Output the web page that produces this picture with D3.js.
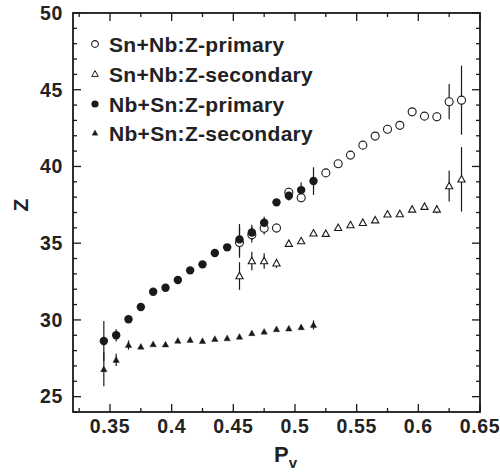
<!DOCTYPE html>
<html><head><meta charset="utf-8">
<script src="https://cdn.jsdelivr.net/npm/d3@7"></script>
<style>body{margin:0;background:#fff}svg{display:block}text{font-family:"Liberation Sans",Arial,sans-serif;font-weight:bold;fill:#222}</style>
</head><body><svg id="c" width="500" height="473"></svg>
<script>
// Data
const snNbPrimX = [0.455,0.465,0.475,0.485,0.495,0.505,0.525,0.535,0.545,0.555,0.565,0.575,0.585,0.595,0.605,0.615,0.625,0.635];
const snNbPrimY = [35.05,35.55,35.97,35.99,38.32,37.96,39.58,40.18,40.74,41.39,41.98,42.42,42.68,43.56,43.28,43.24,44.22,44.32];
const snNbPrimE = [1.0,0.5,0.4,0.3,0.3,0.3,0,0,0,0,0,0,0,0,0.15,0.3,1.15,2.25];

const snNbSecX = [0.455,0.465,0.475,0.485,0.495,0.505,0.515,0.525,0.535,0.545,0.555,0.565,0.575,0.585,0.595,0.605,0.615,0.625,0.635];
const snNbSecY = [32.86,33.84,33.84,33.69,34.97,35.14,35.64,35.62,36.0,36.18,36.33,36.5,36.88,36.9,37.2,37.38,37.2,38.72,39.16];
const snNbSecE = [0.9,0.6,0.5,0.3,0,0,0,0,0,0,0,0,0,0,0,0,0.25,1.0,2.1];

const nbSnPrimX = [0.345,0.355,0.365,0.375,0.385,0.395,0.405,0.415,0.425,0.435,0.445,0.455,0.465,0.475,0.485,0.495,0.505,0.515];
const nbSnPrimY = [28.63,29.0,30.04,30.84,31.84,32.1,32.6,33.23,33.62,34.36,34.73,35.25,35.7,36.33,37.66,38.09,38.46,39.05];
const nbSnPrimE = [1.3,0.4,0,0,0,0,0,0,0,0,0,1.0,0.5,0.4,0,0.3,0.5,0.9];

const nbSnSecX = [0.345,0.355,0.365,0.375,0.385,0.395,0.405,0.415,0.425,0.435,0.445,0.455,0.465,0.475,0.485,0.495,0.505,0.515];
const nbSnSecY = [26.78,27.39,28.36,28.25,28.41,28.39,28.63,28.69,28.62,28.75,28.8,28.89,29.13,29.23,29.39,29.43,29.52,29.67];
const nbSnSecE = [1.1,0.4,0.3,0,0,0,0,0,0,0,0,0,0,0,0,0,0.15,0.3];

const seriesNames = ["Sn+Nb:Z-primary","Sn+Nb:Z-secondary","Nb+Sn:Z-primary","Nb+Sn:Z-secondary"];
const xTicks = [0.35,0.4,0.45,0.5,0.55,0.6,0.65];
const yTicks = [25,30,35,40,45,50];

const svg = d3.select("#c");
const L=73, R=480, T=13, B=412;
const x = d3.scaleLinear().domain([0.32,0.65]).range([L,R]);
const y = d3.scaleLinear().domain([24,50]).range([B,T]);

const zip = (xs,ys,es)=>xs.map((v,i)=>({x:v,y:ys[i],e:es[i]}));
const series = [
  {name:seriesNames[0], data:zip(snNbPrimX,snNbPrimY,snNbPrimE), shape:"circle", fill:false},
  {name:seriesNames[1], data:zip(snNbSecX,snNbSecY,snNbSecE), shape:"tri", fill:false},
  {name:seriesNames[2], data:zip(nbSnPrimX,nbSnPrimY,nbSnPrimE), shape:"circle", fill:true},
  {name:seriesNames[3], data:zip(nbSnSecX,nbSnSecY,nbSnSecE), shape:"tri", fill:true}
];

const ink="#1a1a1a";
// error bars
series.forEach(s=>{
  svg.append("g").selectAll("line").data(s.data.filter(d=>d.e>0)).join("line")
    .attr("x1",d=>x(d.x)).attr("x2",d=>x(d.x))
    .attr("y1",d=>y(d.y-d.e)).attr("y2",d=>y(d.y+d.e))
    .attr("stroke",ink).attr("stroke-width",1.2);
});

function marker(g, s){
  if(s.shape==="circle"){
    return g.append("circle").attr("r", s.fill?4.2:4)
      .attr("fill", s.fill?ink:"#fff").attr("stroke",ink).attr("stroke-width",s.fill?0:1.1);
  } else {
    const sz = s.fill?3.2:3.6;
    const p = `M0,${-sz*1.05}L${sz*1.0},${sz*0.75}L${-sz*1.0},${sz*0.75}Z`;
    return g.append("path").attr("d",p)
      .attr("fill", s.fill?ink:"#fff").attr("stroke",ink).attr("stroke-width",s.fill?0.4:1.1);
  }
}
const order=[1,3,0,2];
order.forEach(i=>{
  const s=series[i];
  s.data.forEach(d=>{
    const g=svg.append("g").attr("transform",`translate(${x(d.x)},${y(d.y)})`);
    marker(g,s);
  });
});

// axes frame
svg.append("rect").attr("x",L).attr("y",T).attr("width",R-L).attr("height",B-T)
  .attr("fill","none").attr("stroke",ink).attr("stroke-width",1.8);

const xMinor = d3.range(0.325,0.6501,0.025);
const yMinor = d3.range(24,50.01,1);
const tk = svg.append("g").attr("stroke",ink).attr("stroke-width",1.3);
xMinor.forEach(v=>{
  const major = xTicks.some(t=>Math.abs(t-v)<1e-6);
  const len = major?8:4;
  tk.append("line").attr("x1",x(v)).attr("x2",x(v)).attr("y1",B).attr("y2",B-len);
  tk.append("line").attr("x1",x(v)).attr("x2",x(v)).attr("y1",T).attr("y2",T+len);
});
yMinor.forEach(v=>{
  const major = yTicks.includes(v);
  const len = major?8:4;
  tk.append("line").attr("y1",y(v)).attr("y2",y(v)).attr("x1",L).attr("x2",L+len);
  tk.append("line").attr("y1",y(v)).attr("y2",y(v)).attr("x1",R).attr("x2",R-len);
});

// tick labels
svg.append("g").selectAll("text").data(xTicks).join("text")
  .attr("x",d=>x(d)).attr("y",433).attr("text-anchor","middle")
  .attr("font-size",19.5).attr("letter-spacing",0.6).text(d=>d3.format("")(d));
svg.append("g").selectAll("text").data(yTicks).join("text")
  .attr("x",63).attr("y",d=>y(d)+6.8).attr("text-anchor","end")
  .attr("font-size",19.5).attr("letter-spacing",0.6).text(d=>d);

// axis titles
const xt = svg.append("text").attr("x",274).attr("y",462).attr("text-anchor","start").attr("font-size",22);
xt.append("tspan").text("P");
xt.append("tspan").attr("font-size",15).attr("dy",6).text("v");
svg.append("text").attr("transform","translate(28,205) rotate(-90)").attr("text-anchor","middle")
  .attr("font-size",21).text("Z");

// legend
const legY=[44,74,104,133];
series.forEach((s,i)=>{
  const g=svg.append("g").attr("transform",`translate(95,${legY[i]})`);
  const m=marker(g,s);
  if(s.shape==="circle") m.attr("r",s.fill?3.6:3.4);
  else m.attr("transform","scale(0.9)");
  svg.append("text").attr("x",109).attr("y",legY[i]+7.5).attr("font-size",21).attr("letter-spacing",0.3).text(s.name);
});
</script></body></html>
